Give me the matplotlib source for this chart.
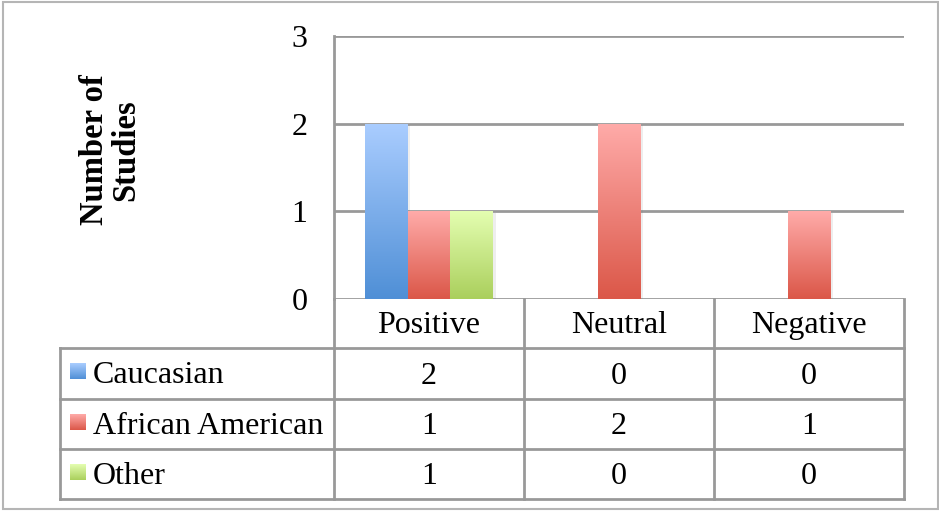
import numpy as np
import matplotlib
matplotlib.use("Agg")
import matplotlib.pyplot as plt
from matplotlib.colors import LinearSegmentedColormap
from matplotlib.patches import Rectangle
import matplotlib.patheffects as pe

# Data
categories = ['Positive', 'Neutral', 'Negative']
groups = ['Caucasian', 'African American', 'Other']
caucasian = [2, 0, 0]
african_american = [1, 2, 1]
other = [1, 0, 0]
series = [caucasian, african_american, other]
y_ticks = [0, 1, 2, 3]

# Gradient colours (top, bottom) for each series
grad_colors = [('#AACDFF', '#4F8FD6'),
               ('#FFABA9', '#DB5748'),
               ('#E4FEB1', '#AACF5C')]

plt.rcParams['font.family'] = ['Liberation Serif', 'DejaVu Serif']
FS = 23
GRID = '#999999'

W, H = 939, 512
fig = plt.figure(figsize=(W / 100, H / 100), dpi=100)

# Full-figure overlay in pixel coordinates for the frame and data table
frame = fig.add_axes([0, 0, 1, 1])
frame.set_xlim(0, W)
frame.set_ylim(H, 0)
frame.axis('off')

# Chart area
x0, x1, ytop, ybot = 334, 904, 36, 299
ax = fig.add_axes([x0 / W, (H - ybot) / H, (x1 - x0) / W, (ybot - ytop) / H])
ax.set_facecolor('none')
ax.set_xlim(-0.5, len(categories) - 0.5)
ax.set_ylim(0, 3)
ax.set_yticks(y_ticks)
ax.set_yticklabels([str(t) for t in y_ticks], fontsize=FS)
ax.set_xticks([])
ax.tick_params(axis='y', length=0, pad=19)
for s in ['top', 'right', 'bottom']:
    ax.spines[s].set_visible(False)
ax.spines['left'].set_color(GRID)
ax.spines['left'].set_linewidth(2)
ax.yaxis.grid(True, color=GRID, linewidth=2)
ax.set_axisbelow(True)

# Bars with vertical gradient fill
width = 0.226
x = np.arange(len(categories))
grad = np.linspace(0, 1, 256).reshape(-1, 1)
for i, (vals, (ctop, cbot)) in enumerate(zip(series, grad_colors)):
    cmap = LinearSegmentedColormap.from_list(f'g{i}', [cbot, ctop])
    bars = ax.bar(x + (i - 1) * width, vals, width, color='white', linewidth=0,
                  zorder=3,
                  path_effects=[pe.SimplePatchShadow(offset=(2, -1), alpha=0.12,
                                                     shadow_rgbFace='#777777'),
                                pe.Normal()])
    for b in bars:
        h = b.get_height()
        if h <= 0:
            continue
        bx = b.get_x()
        im = ax.imshow(grad, cmap=cmap, aspect='auto', origin='lower',
                       extent=(bx, bx + b.get_width(), 0, h), zorder=4)
        im.set_clip_path(b)
ax.set_xlim(-0.5, len(categories) - 0.5)
ax.set_ylim(0, 3)

# Y axis label
fig.text(110 / W, (H - 150) / H, 'Number of\nStudies', rotation=90,
         fontsize=FS + 0.5, fontweight='bold', ha='center', va='center',
         linespacing=1.0)

# Data table below the chart
col_edges = [334, 524, 714, 904]
row_edges = [348, 399, 449, 499]
tab_left = 60
lw = 2
for cx in col_edges:
    frame.plot([cx, cx], [ybot, row_edges[-1]], color=GRID, lw=lw,
               solid_capstyle='projecting')
frame.plot([tab_left, tab_left], [row_edges[0], row_edges[-1]], color=GRID,
           lw=lw, solid_capstyle='projecting')
for ry in row_edges:
    frame.plot([tab_left, col_edges[-1]], [ry, ry], color=GRID, lw=lw,
               solid_capstyle='projecting')

# header labels
for j, cat in enumerate(categories):
    cx = (col_edges[j] + col_edges[j + 1]) / 2
    frame.text(cx, (ybot + row_edges[0]) / 2 + 2, cat, fontsize=FS,
               ha='center', va='center')

# rows: legend key, name and values
for i, (name, vals, (ctop, cbot)) in enumerate(zip(groups, series, grad_colors)):
    ry0, ry1 = row_edges[i], row_edges[i + 1]
    cy = (ry0 + ry1) / 2
    cmap = LinearSegmentedColormap.from_list(f'k{i}', [ctop, cbot])
    frame.imshow(grad, cmap=cmap, aspect='auto',
                 extent=(70, 86, cy + 6, cy - 10), zorder=3)
    frame.text(93, cy + 2, name, fontsize=FS, ha='left', va='center')
    for j, v in enumerate(vals):
        cx = (col_edges[j] + col_edges[j + 1]) / 2
        frame.text(cx, cy + 3, str(v), fontsize=FS, ha='center', va='center')

frame.set_xlim(0, W)
frame.set_ylim(H, 0)

# Outer chart border
frame.add_patch(Rectangle((3, 2), 935, 507, fill=False, edgecolor='#B5B5B5',
                          lw=1.5))

fig.savefig('out.png', dpi=100)
